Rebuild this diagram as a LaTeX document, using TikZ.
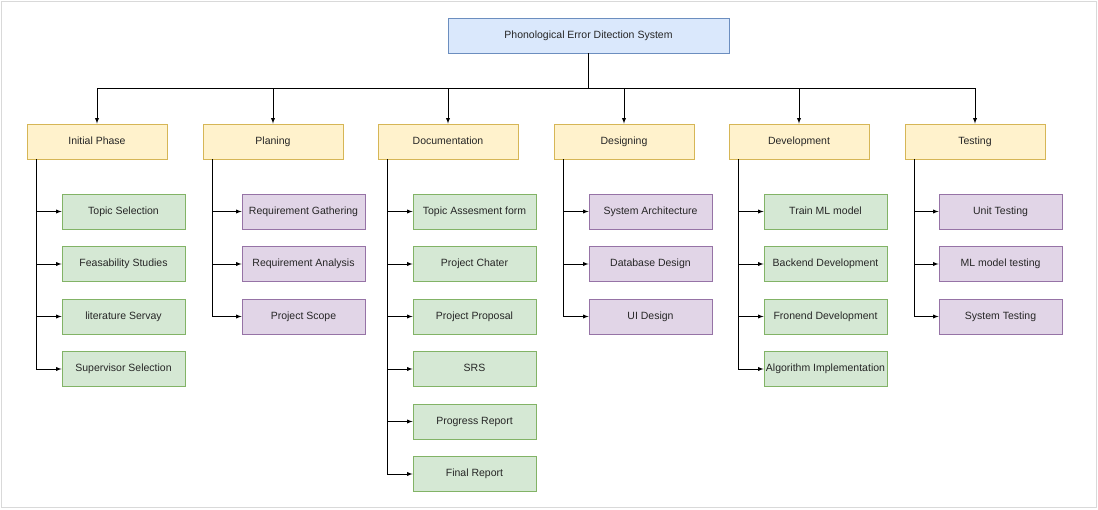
\documentclass[tikz,border=0pt]{standalone}
\usepackage{fontspec}
\setmainfont{Liberation Sans}
\usepackage{tikz}
\usetikzlibrary{calc,positioning,arrows}

\definecolor{topfill}{HTML}{DAE8FC}
\definecolor{topline}{HTML}{6C8EBF}
\definecolor{phasefill}{HTML}{FFF2CC}
\definecolor{phaseline}{HTML}{D6B656}
\definecolor{greenfill}{HTML}{D5E8D4}
\definecolor{greenline}{HTML}{82B366}
\definecolor{purplefill}{HTML}{E1D5E7}
\definecolor{purpleline}{HTML}{9673A6}

\tikzset{
	box/.style={rectangle, inner sep=0pt, line width=0.9pt, text=black!85, font=\fontsize{10.5}{12}\selectfont, minimum height=35pt, text height=7.6pt, text depth=2.2pt},
	topbox/.style={box, draw=topline, fill=topfill, minimum width=281pt},
	phasebox/.style={box, draw=phaseline, fill=phasefill, minimum width=140pt},
	greenbox/.style={box, draw=greenline, fill=greenfill, minimum width=123pt},
	purplebox/.style={box, draw=purpleline, fill=purplefill, minimum width=123pt},
	link/.style={-latex, line width=0.9pt, black}
}

\begin{document}
\begin{tikzpicture}[x=1pt, y=-1pt]
		\useasboundingbox (0,0) rectangle (1098,510);
		\draw [line width=1.5pt, black!15] (1.5,1.5) rectangle (1096.5,507.5);

		\node [topbox] (pedsys) at (588.5,35.5) {Phonological Error Ditection System};
		\coordinate (bus) at (588.5,88);

		% phases
		\node [phasebox] (initial) at (97,141.5) {Initial Phase};
		\node [phasebox] (planing) at (273,141.5) {Planing};
		\node [phasebox] (docs) at (448,141.5) {Documentation};
		\node [phasebox] (design) at (624,141.5) {Designing};
		\node [phasebox] (develop) at (799,141.5) {Development};
		\node [phasebox] (testing) at (975,141.5) {Testing};

		\draw [link] (pedsys.south) -- (bus) -| (initial.north);
		\draw [link] (pedsys.south) -- (bus) -| (planing.north);
		\draw [link] (pedsys.south) -- (bus) -| (docs.north);
		\draw [link] (pedsys.south) -- (bus) -| (design.north);
		\draw [link] (pedsys.south) -- (bus) -| (develop.north);
		\draw [link] (pedsys.south) -- (bus) -| (testing.north);

		% initial phase
		\node [greenbox] (topic) at (123.5,211.5) {Topic Selection};
		\node [greenbox] (feas) at (123.5,264) {Feasability Studies};
		\node [greenbox] (lit) at (123.5,316.5) {literature Servay};
		\node [greenbox] (superv) at (123.5,369) {Supervisor Selection};
		\draw [link] ([xshift=10pt]initial.south west) |- (topic.west);
		\draw [link] ([xshift=10pt]initial.south west) |- (feas.west);
		\draw [link] ([xshift=10pt]initial.south west) |- (lit.west);
		\draw [link] ([xshift=10pt]initial.south west) |- (superv.west);

		% planing
		\node [purplebox] (reqgath) at (303.5,211.5) {Requirement Gathering};
		\node [purplebox] (reqana) at (303.5,264) {Requirement Analysis};
		\node [purplebox] (scope) at (303.5,316.5) {Project Scope};
		\draw [link] ([xshift=10pt]planing.south west) |- (reqgath.west);
		\draw [link] ([xshift=10pt]planing.south west) |- (reqana.west);
		\draw [link] ([xshift=10pt]planing.south west) |- (scope.west);

		% documentation
		\node [greenbox] (assess) at (474.5,211.5) {Topic Assesment form};
		\node [greenbox] (charter) at (474.5,264) {Project Chater};
		\node [greenbox] (proposal) at (474.5,316.5) {Project Proposal};
		\node [greenbox] (srs) at (474.5,369) {SRS};
		\node [greenbox] (progress) at (474.5,421.5) {Progress Report};
		\node [greenbox] (final) at (474.5,474) {Final Report};
		\draw [link] ([xshift=10pt]docs.south west) |- (assess.west);
		\draw [link] ([xshift=10pt]docs.south west) |- (charter.west);
		\draw [link] ([xshift=10pt]docs.south west) |- (proposal.west);
		\draw [link] ([xshift=10pt]docs.south west) |- (srs.west);
		\draw [link] ([xshift=10pt]docs.south west) |- (progress.west);
		\draw [link] ([xshift=10pt]docs.south west) |- (final.west);

		% designing
		\node [purplebox] (arch) at (650.5,211.5) {System Architecture};
		\node [purplebox] (dbdesign) at (650.5,264) {Database Design};
		\node [purplebox] (uidesign) at (650.5,316.5) {UI Design};
		\draw [link] ([xshift=10pt]design.south west) |- (arch.west);
		\draw [link] ([xshift=10pt]design.south west) |- (dbdesign.west);
		\draw [link] ([xshift=10pt]design.south west) |- (uidesign.west);

		% development
		\node [greenbox] (trainml) at (825.5,211.5) {Train ML model};
		\node [greenbox] (backend) at (825.5,264) {Backend Development};
		\node [greenbox] (frontend) at (825.5,316.5) {Fronend Development};
		\node [greenbox] (algo) at (825.5,369) {Algorithm Implementation};
		\draw [link] ([xshift=10pt]develop.south west) |- (trainml.west);
		\draw [link] ([xshift=10pt]develop.south west) |- (backend.west);
		\draw [link] ([xshift=10pt]develop.south west) |- (frontend.west);
		\draw [link] ([xshift=10pt]develop.south west) |- (algo.west);

		% testing
		\node [purplebox] (unit) at (1000.5,211.5) {Unit Testing};
		\node [purplebox] (mltest) at (1000.5,264) {ML model testing};
		\node [purplebox] (systest) at (1000.5,316.5) {System Testing};
		\draw [link] ([xshift=10pt]testing.south west) |- (unit.west);
		\draw [link] ([xshift=10pt]testing.south west) |- (mltest.west);
		\draw [link] ([xshift=10pt]testing.south west) |- (systest.west);

\end{tikzpicture}
\end{document}
